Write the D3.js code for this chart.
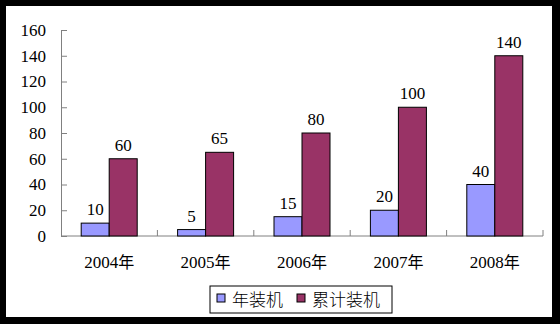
<!DOCTYPE html>
<html>
<head>
<meta charset="utf-8">
<script src="https://cdn.jsdelivr.net/npm/d3@7"></script>
<style>
  body { margin: 0; background: #000; }
  svg { display: block; }
</style>
</head>
<body>
<div id="chart"></div>
<script>
const years = ['2004', '2005', '2006', '2007', '2008'];
const yearSuffix = '年';
const seriesNames = ['年装机', '累计装机'];
const annual = [10, 5, 15, 20, 40];
const cumulative = [60, 65, 80, 100, 140];
const yTicks = [0, 20, 40, 60, 80, 100, 120, 140, 160];
const colors = ['#9999ff', '#993366'];

const serif = "'Liberation Serif', serif";
const cjk = "'Noto Sans CJK SC', sans-serif";

const W = 560;
const H = 324;
const svg = d3.select('#chart').append('svg').attr('width', W).attr('height', H);

// white plot area inside the black frame
svg.append('rect').attr('x', 6).attr('y', 6).attr('width', 546).attr('height', 311).attr('fill', '#fff');

const plot = { left: 61, right: 543, top: 30, bottom: 236 };

const x = d3.scaleBand().domain(years).range([plot.left, plot.right]);
const y = d3.scaleLinear().domain([0, 160]).range([plot.bottom, plot.top]);
const barW = 28;

// y axis, ticks pointing inward
const yAxis = svg.append('g')
  .attr('transform', `translate(${plot.left},0)`)
  .call(d3.axisLeft(y).tickValues(yTicks).tickSize(-6).tickPadding(15).tickFormat(d3.format('d')));
yAxis.attr('font-family', serif).attr('font-size', 17);
yAxis.selectAll('line, path').attr('stroke', '#808080');
yAxis.selectAll('text').attr('fill', '#000');

// x axis with ticks between categories
const xAxis = svg.append('g').attr('transform', `translate(0,${plot.bottom})`);
xAxis.append('line').attr('x1', plot.left).attr('x2', plot.right).attr('stroke', '#808080');
xAxis.selectAll('.sep')
  .data(years)
  .enter()
  .append('line')
  .attr('x1', d => x(d) + x.bandwidth())
  .attr('x2', d => x(d) + x.bandwidth())
  .attr('y1', 0)
  .attr('y2', -6)
  .attr('stroke', '#808080');
const xLabels = xAxis.selectAll('.lab')
  .data(years)
  .enter()
  .append('text')
  .attr('font-family', serif)
  .attr('font-size', 17)
  .attr('x', d => x(d) + x.bandwidth() / 2)
  .attr('y', 32)
  .attr('text-anchor', 'middle');
xLabels.append('tspan').text(d => d);
xLabels.append('tspan').attr('font-family', cjk).attr('font-size', 16).text(yearSuffix);

// bars
const series = [annual, cumulative];
series.forEach((vals, s) => {
  const g = svg.append('g');
  g.selectAll('rect')
    .data(vals)
    .enter()
    .append('rect')
    .attr('x', (d, i) => x(years[i]) + x.bandwidth() / 2 - barW + s * barW)
    .attr('y', d => y(d))
    .attr('width', barW)
    .attr('height', d => plot.bottom - y(d))
    .attr('fill', colors[s])
    .attr('stroke', '#000')
    .attr('stroke-width', 1);
  g.selectAll('text')
    .data(vals)
    .enter()
    .append('text')
    .attr('font-family', serif)
    .attr('font-size', 17)
    .attr('x', (d, i) => x(years[i]) + x.bandwidth() / 2 - barW / 2 + s * barW)
    .attr('y', d => y(d) - 8)
    .attr('text-anchor', 'middle')
    .text(d => d);
});

// legend
const legend = svg.append('g');
legend.append('rect')
  .attr('x', 210).attr('y', 286).attr('width', 182).attr('height', 27)
  .attr('fill', '#fff').attr('stroke', '#000');
const legendX = [217, 297];
seriesNames.forEach((name, i) => {
  legend.append('rect')
    .attr('x', legendX[i]).attr('y', 294).attr('width', 8).attr('height', 8)
    .attr('fill', colors[i]).attr('stroke', '#000');
  legend.append('text')
    .attr('font-family', cjk)
    .attr('font-size', 17)
    .attr('font-weight', 300)
    .attr('x', legendX[i] + 15).attr('y', 306)
    .text(name);
});
</script>
</body>
</html>
